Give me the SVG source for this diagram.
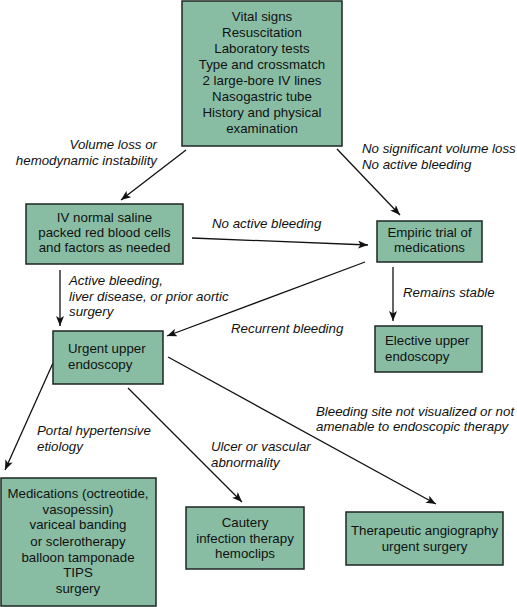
<svg xmlns="http://www.w3.org/2000/svg" width="517" height="607" viewBox="0 0 517 607">
<style>
.box{fill:#88bda4;stroke:#1c2622;stroke-width:1.5}
.t{font-family:"Liberation Sans",Arial,sans-serif;font-size:13.3px;fill:#111}
.c{text-anchor:middle}
.lbl{font-family:"Liberation Sans",Arial,sans-serif;font-size:13.3px;font-style:italic;fill:#111}
.ln{stroke:#111;stroke-width:1.3;fill:none;marker-end:url(#ah)}
</style>
<defs>
<marker id="ah" markerUnits="userSpaceOnUse" markerWidth="11" markerHeight="9" refX="10" refY="4" orient="auto">
<path d="M0,0 L10,4 L0,8 L2.5,4 z" fill="#111"/>
</marker>
</defs>
<rect width="517" height="607" fill="#fff"/>
<g id="connectors">
<line class="ln" x1="186" y1="150" x2="121" y2="200"/>
<line class="ln" x1="337" y1="149" x2="400" y2="215"/>
<line class="ln" x1="192" y1="238" x2="368" y2="245"/>
<line class="ln" x1="60" y1="270" x2="60" y2="326"/>
<line class="ln" x1="365" y1="262" x2="167" y2="336"/>
<line class="ln" x1="393" y1="267" x2="393" y2="321"/>
<line class="ln" x1="53" y1="363" x2="5" y2="470"/>
<line class="ln" x1="128" y1="388" x2="242" y2="502"/>
<line class="ln" x1="168" y1="357" x2="436" y2="504"/>
<text class="lbl" text-anchor="end" x="157" y="149">Volume loss or</text>
<text class="lbl" text-anchor="end" x="157" y="165">hemodynamic instability</text>
<text class="lbl" x="362" y="153">No significant volume loss</text>
<text class="lbl" x="362" y="169">No active bleeding</text>
<text class="lbl" x="212" y="228">No active bleeding</text>
<text class="lbl" x="69" y="285">Active bleeding,</text>
<text class="lbl" x="69" y="300.5">liver disease, or prior aortic</text>
<text class="lbl" x="69" y="316">surgery</text>
<text class="lbl" x="231" y="333">Recurrent bleeding</text>
<text class="lbl" x="403" y="297">Remains stable</text>
<text class="lbl" x="37" y="435">Portal hypertensive</text>
<text class="lbl" x="37" y="450.5">etiology</text>
<text class="lbl" x="211" y="451">Ulcer or vascular</text>
<text class="lbl" x="211" y="467">abnormality</text>
<text class="lbl" x="316" y="415.5">Bleeding site not visualized or not</text>
<text class="lbl" x="316" y="431">amenable to endoscopic therapy</text>
</g>
<g id="top">
<rect class="box" x="182" y="1" width="160" height="145"/>
<text class="t c" x="262" y="21">Vital signs</text>
<text class="t c" x="262" y="37">Resuscitation</text>
<text class="t c" x="262" y="53">Laboratory tests</text>
<text class="t c" x="262" y="69">Type and crossmatch</text>
<text class="t c" x="262" y="85">2 large-bore IV lines</text>
<text class="t c" x="262" y="101">Nasogastric tube</text>
<text class="t c" x="262" y="117">History and physical</text>
<text class="t c" x="262" y="133">examination</text>
</g>
<g id="iv">
<rect class="box" x="26" y="204" width="157" height="60"/>
<text class="t c" x="104.5" y="221.5">IV normal saline</text>
<text class="t c" x="104.5" y="236.5">packed red blood cells</text>
<text class="t c" x="104.5" y="252">and factors as needed</text>
</g>
<g id="empiric">
<rect class="box" x="377" y="221" width="105" height="41"/>
<text class="t c" x="429.5" y="236.5">Empiric trial of</text>
<text class="t c" x="429.5" y="252">medications</text>
</g>
<g id="elective">
<rect class="box" x="375" y="326" width="107" height="46"/>
<text class="t" x="385" y="345">Elective upper</text>
<text class="t" x="385" y="361">endoscopy</text>
</g>
<g id="urgent">
<rect class="box" x="53" y="331" width="110" height="53"/>
<text class="t" x="68" y="353">Urgent upper</text>
<text class="t" x="68" y="369">endoscopy</text>
</g>
<g id="meds">
<rect class="box" x="1" y="478" width="155" height="128"/>
<text class="t c" x="78" y="497.5">Medications (octreotide,</text>
<text class="t c" x="78" y="513.5">vasopessin)</text>
<text class="t c" x="78" y="529">variceal banding</text>
<text class="t c" x="78" y="545.5">or sclerotherapy</text>
<text class="t c" x="78" y="561.5">balloon tamponade</text>
<text class="t c" x="78" y="577">TIPS</text>
<text class="t c" x="78" y="593">surgery</text>
</g>
<g id="cautery">
<rect class="box" x="186" y="507" width="118" height="62"/>
<text class="t c" x="245" y="526.5">Cautery</text>
<text class="t c" x="245" y="542.5">infection therapy</text>
<text class="t c" x="245" y="557.5">hemoclips</text>
</g>
<g id="angio">
<rect class="box" x="346" y="512" width="157" height="53"/>
<text class="t c" x="424.5" y="535">Therapeutic angiography</text>
<text class="t c" x="424.5" y="551">urgent surgery</text>
</g>
</svg>
